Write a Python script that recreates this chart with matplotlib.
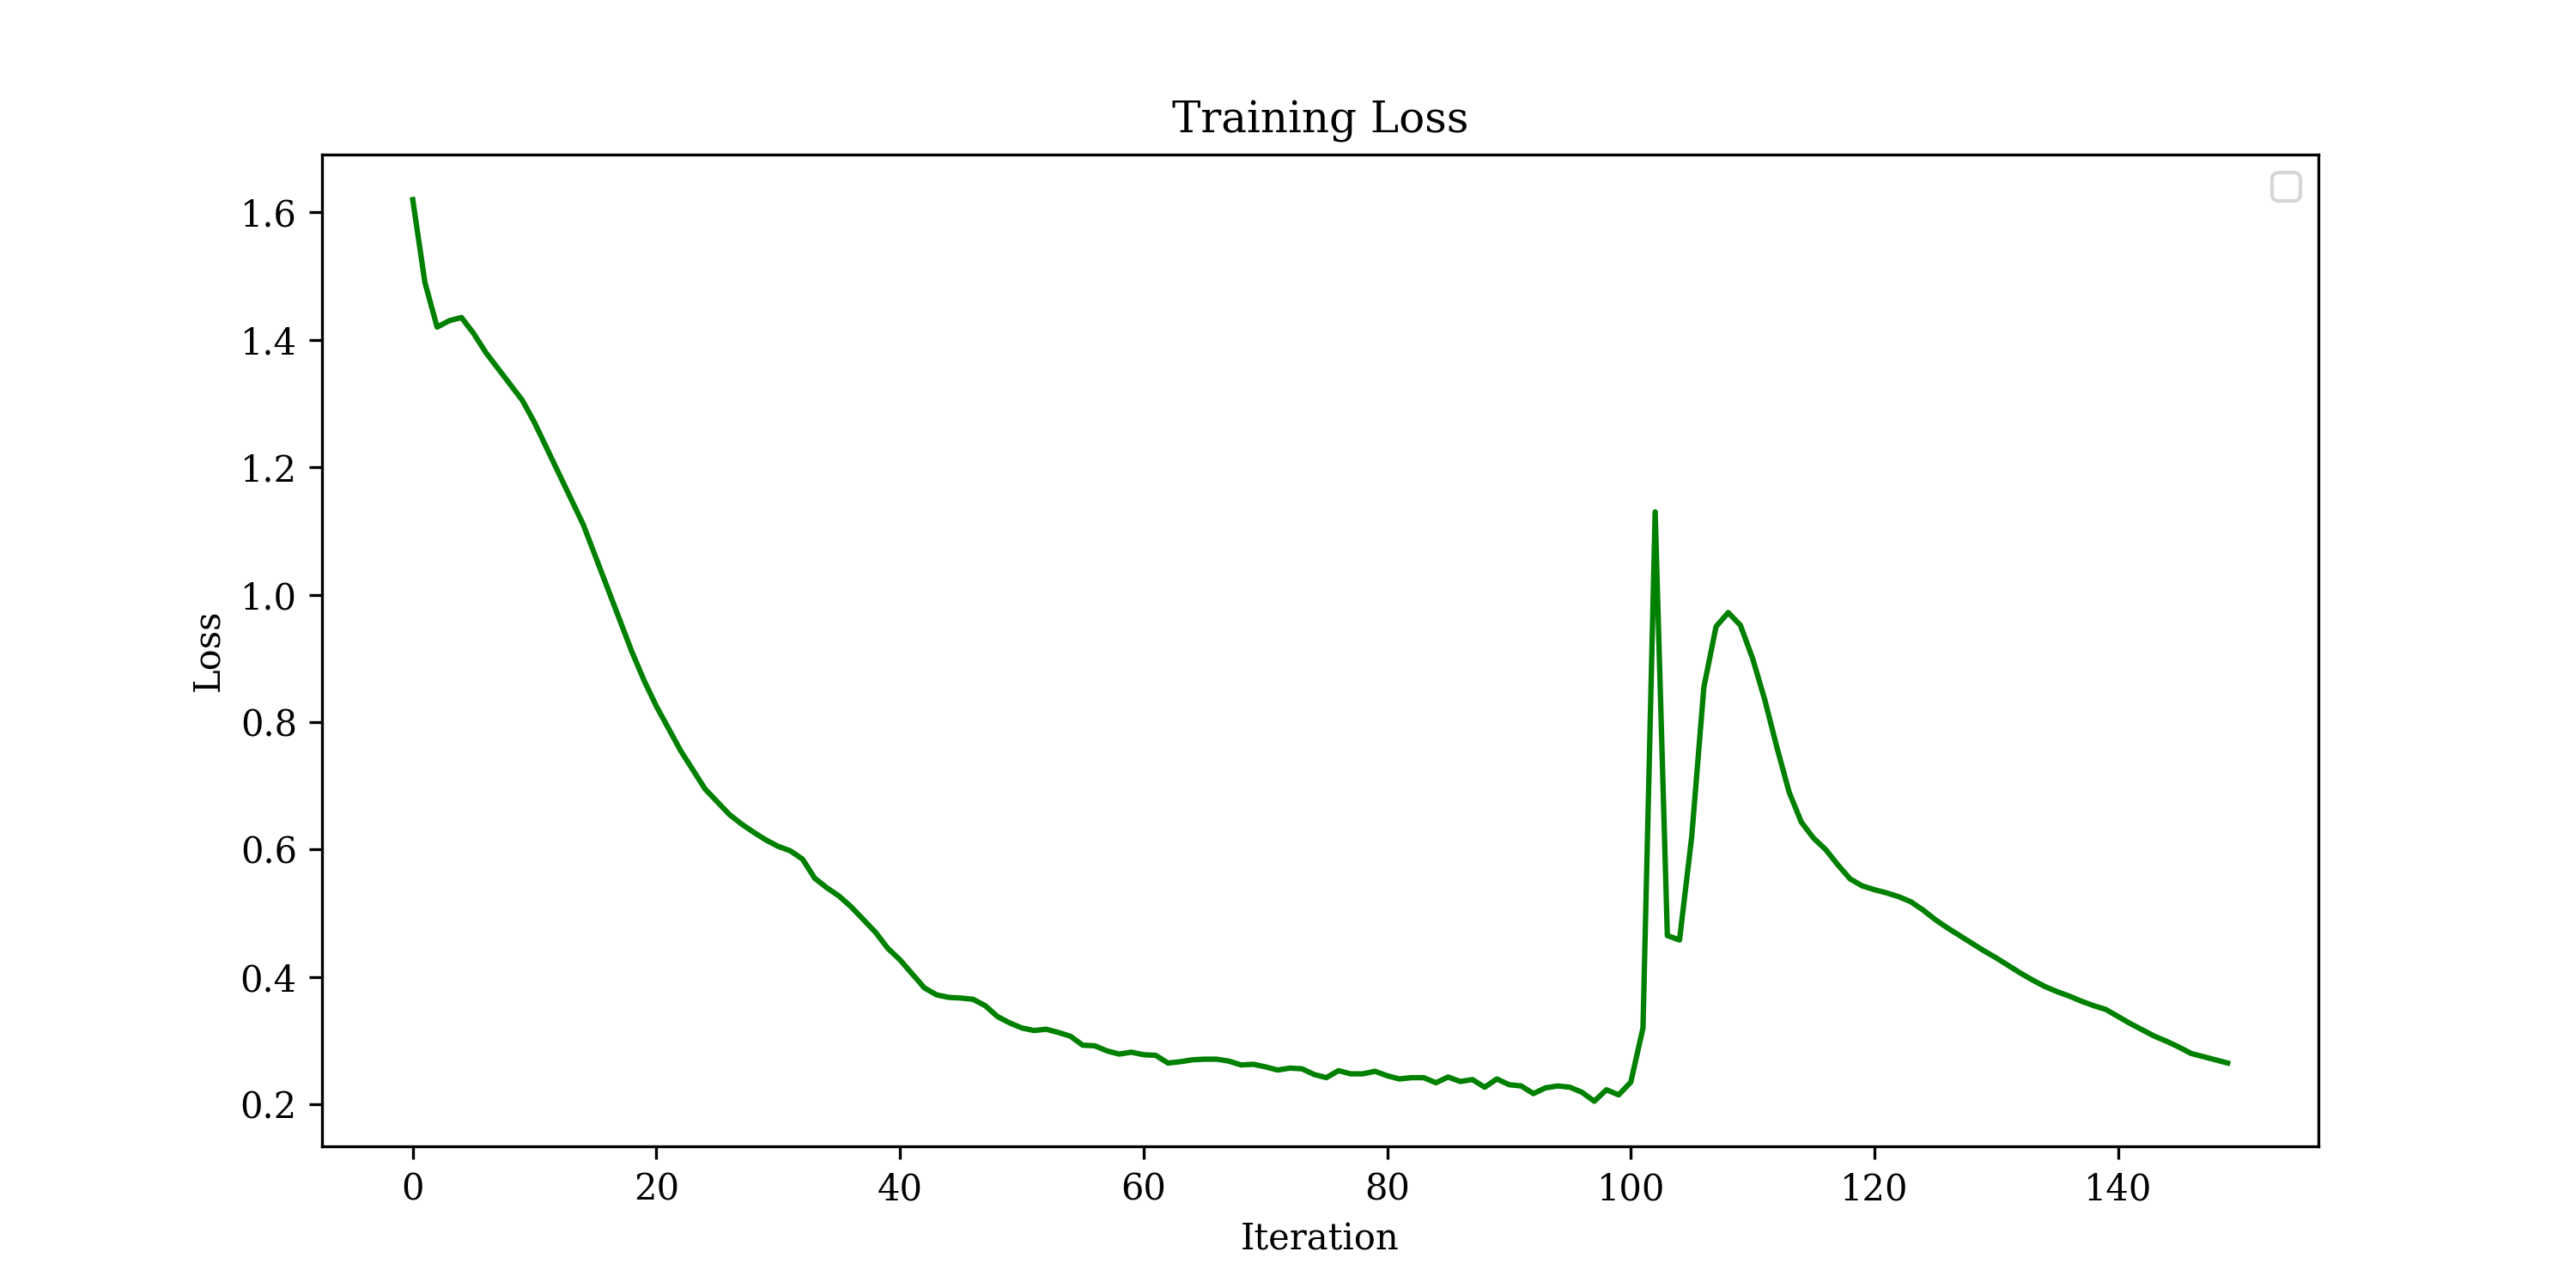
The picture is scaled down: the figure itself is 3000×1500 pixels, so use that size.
import matplotlib
matplotlib.use("Agg")
import matplotlib.pyplot as plt

plt.rcParams["font.family"] = "serif"

# loss per iteration
loss = [
    1.62, 1.49, 1.42, 1.43, 1.435, 1.41, 1.38, 1.355, 1.33, 1.305,
    1.27, 1.23, 1.19, 1.15, 1.11, 1.06, 1.01, 0.96, 0.91, 0.865,
    0.825, 0.79, 0.755, 0.725, 0.695, 0.675, 0.655, 0.64, 0.627, 0.615,
    0.605, 0.598, 0.585, 0.555, 0.54, 0.527, 0.51, 0.49, 0.47, 0.445,
    0.427, 0.405, 0.383, 0.372, 0.368, 0.367, 0.365, 0.355, 0.338, 0.328,
    0.32, 0.316, 0.318, 0.313, 0.307, 0.293, 0.292, 0.284, 0.279, 0.282,
    0.278, 0.277, 0.265, 0.267, 0.27, 0.271, 0.271, 0.268, 0.262, 0.263,
    0.259, 0.254, 0.257, 0.256, 0.247, 0.242, 0.253, 0.248, 0.248, 0.252,
    0.245, 0.24, 0.242, 0.242, 0.234, 0.243, 0.236, 0.239, 0.227, 0.24,
    0.231, 0.229, 0.217, 0.226, 0.229, 0.227, 0.219, 0.205, 0.223, 0.215,
    0.235, 0.32, 1.13, 0.465, 0.458, 0.62, 0.855, 0.95, 0.972, 0.952,
    0.9, 0.835, 0.76, 0.69, 0.643, 0.618, 0.6, 0.576, 0.554, 0.543,
    0.537, 0.532, 0.526, 0.518, 0.505, 0.49, 0.477, 0.465, 0.453, 0.441,
    0.43, 0.418, 0.406, 0.395, 0.385, 0.377, 0.37, 0.362, 0.355, 0.349,
    0.338, 0.327, 0.317, 0.307, 0.299, 0.29, 0.28, 0.275, 0.27, 0.265,
]
iterations = list(range(len(loss)))

fig, ax = plt.subplots(figsize=(10, 5))
ax.plot(iterations, loss, color="green")
ax.set_title("Training Loss")
ax.set_xlabel("Iteration")
ax.set_ylabel("Loss")
ax.legend()  # empty legend box, as in the original

fig.savefig("out.png", dpi=300)
plt.close(fig)
